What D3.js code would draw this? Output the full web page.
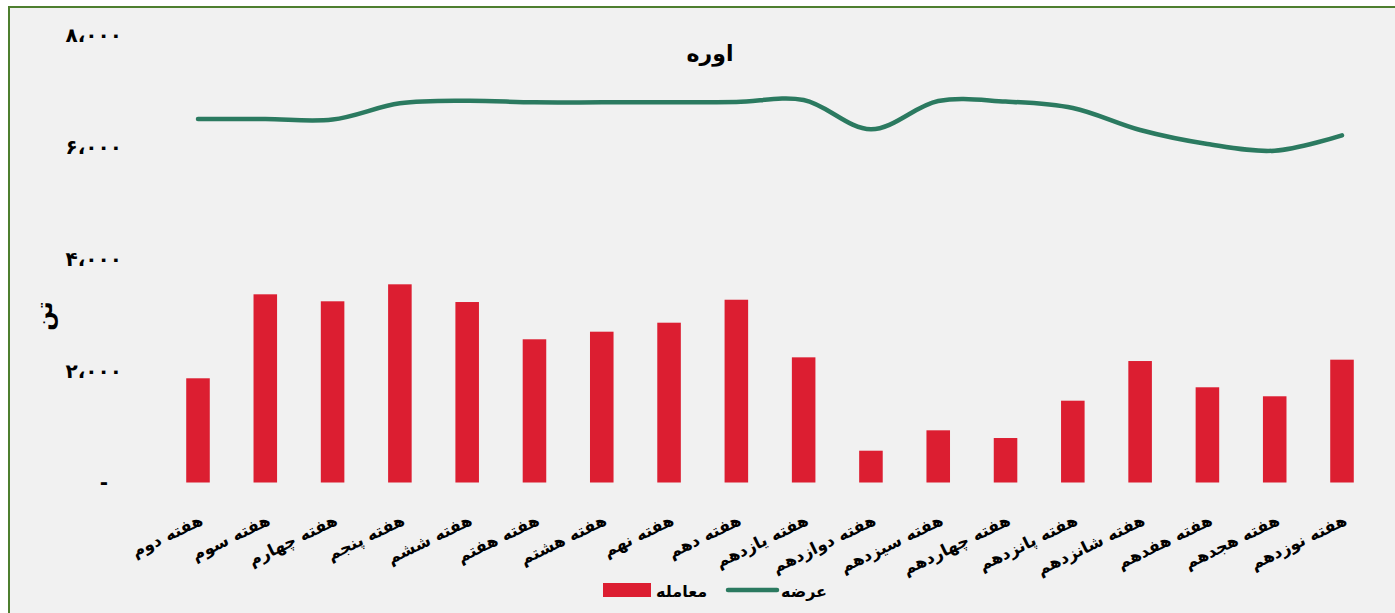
<!DOCTYPE html>
<html lang="fa">
<head>
<meta charset="utf-8">
<script src="https://d3js.org/d3.v7.min.js"></script>
<style>
  body {
    margin: 0;
    background: #ffffff;
  }
  text {
    font-family: "DejaVu Sans", sans-serif;
    font-weight: bold;
    fill: #000;
  }
  .bar {
    fill: #dc1e31;
  }
  .supply {
    fill: none;
    stroke: #2b7a60;
    stroke-width: 4.5px;
    stroke-linecap: round;
  }
</style>
</head>
<body>
<svg id="chart" width="1395" height="613"></svg>
<script>
  var weeks = ["هفته دوم", "هفته سوم", "هفته چهارم", "هفته پنجم", "هفته ششم", "هفته هفتم",
    "هفته هشتم", "هفته نهم", "هفته دهم", "هفته یازدهم", "هفته دوازدهم", "هفته سیزدهم",
    "هفته چهاردهم", "هفته پانزدهم", "هفته شانزدهم", "هفته هفدهم", "هفته هجدهم", "هفته نوزدهم"];

  // معامله (bars) and عرضه (line), tonnes
  var trade = [1865, 3368, 3243, 3547, 3230, 2563, 2699, 2860, 3271,
    2240, 569, 934, 796, 1464, 2174, 1704, 1543, 2198];
  var supply = [6505, 6505, 6496, 6786, 6832, 6804, 6804, 6804, 6809,
    6845, 6321, 6827, 6818, 6702, 6308, 6058, 5938, 6213];

  var yTicks = [0, 2000, 4000, 6000, 8000];

  var svg = d3.select("#chart");
  var faDigits = "۰۱۲۳۴۵۶۷۸۹";
  function toFa(v) {
    if (v === 0) return "-";
    return d3.format(",")(v).replace(/[0-9]/g, function (c) { return faDigits[+c]; }).replace(/,/g, "،");
  }

  // frame
  svg.append("rect")
    .attr("x", 9).attr("y", 7)
    .attr("width", 1400).attr("height", 620)
    .attr("fill", "#f1f1f1")
    .attr("stroke", "#4e7f2f")
    .attr("stroke-width", 2);

  var step = (1342 - 198) / 17;
  var x = d3.scaleBand()
    .domain(weeks)
    .range([198 - step / 2, 1342 + step / 2])
    .paddingInner(0.65)
    .paddingOuter(0.325);

  var y = d3.scaleLinear()
    .domain([0, 8000])
    .range([482.5, 35.5]);

  // y axis (labels only)
  var yAxis = svg.append("g")
    .attr("transform", "translate(122,0)")
    .call(d3.axisLeft(y).tickValues(yTicks).tickFormat(toFa).tickSize(0).tickPadding(0));
  yAxis.select(".domain").remove();
  yAxis.selectAll("text")
    .style("font-family", "'DejaVu Sans', sans-serif")
    .style("font-weight", "bold")
    .style("font-size", "20px")
    .style("letter-spacing", "2px")
    .attr("fill", "#000")
    .filter(function (d) { return d === 0; })
    .attr("x", -12);

  svg.append("text")
    .attr("transform", "translate(52,316) rotate(-90)")
    .attr("text-anchor", "middle")
    .style("font-size", "23px")
    .text("تن");

  // bars
  svg.append("g")
    .selectAll("rect")
    .data(trade)
    .enter()
    .append("rect")
    .attr("class", "bar")
    .attr("x", function (d, i) { return x(weeks[i]); })
    .attr("width", x.bandwidth())
    .attr("y", function (d) { return y(d); })
    .attr("height", function (d) { return y(0) - y(d); });

  // supply line
  var line = d3.line()
    .x(function (d, i) { return x(weeks[i]) + x.bandwidth() / 2; })
    .y(function (d) { return y(d); })
    .curve(d3.curveCatmullRom);

  svg.append("path")
    .datum(supply)
    .attr("class", "supply")
    .attr("d", line);

  // x labels
  svg.append("g")
    .selectAll("text")
    .data(weeks)
    .enter()
    .append("text")
    .attr("transform", function (d) {
      return "translate(" + (x(d) + x.bandwidth() / 2 + 6) + ",524) rotate(-26)";
    })
    .attr("text-anchor", "end")
    .style("font-size", "16.5px")
    .text(function (d) { return d; });

  // title
  svg.append("text")
    .attr("x", 710).attr("y", 61)
    .attr("text-anchor", "middle")
    .style("font-size", "22px")
    .text("اوره");

  // legend
  svg.append("rect")
    .attr("x", 603).attr("y", 583)
    .attr("width", 48).attr("height", 14)
    .attr("class", "bar");
  svg.append("text")
    .attr("x", 656).attr("y", 597)
    .style("font-size", "16px")
    .text("معامله");
  svg.append("line")
    .attr("x1", 728).attr("x2", 777)
    .attr("y1", 590).attr("y2", 590)
    .attr("class", "supply");
  svg.append("text")
    .attr("x", 781).attr("y", 597)
    .style("font-size", "16px")
    .text("عرضه");
</script>
</body>
</html>
